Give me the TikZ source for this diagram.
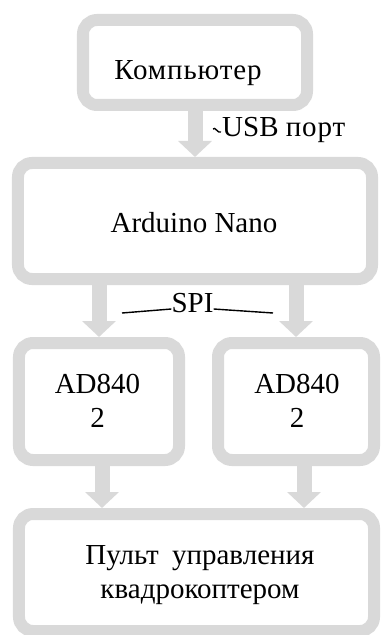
\documentclass[tikz,border=0pt]{standalone}
\usepackage{fontspec}
\setmainfont{Liberation Serif}
\newfontfamily\widecyr[LetterSpace=3]{Liberation Serif}
\usetikzlibrary{arrows.meta, positioning}
\definecolor{boxgray}{HTML}{D9D9D9}

\begin{document}
\begin{tikzpicture}[
    x=1bp, y=-1bp,
    block/.style={draw=boxgray, line width=12bp, rounded corners=14bp}, % grey frames
    txt/.style={font=\fontsize{29bp}{34bp}\selectfont, anchor=base, inner sep=0pt, align=center},
    flow/.style={boxgray, line width=15bp, -{Triangle[width=33bp, length=16bp]}}, % block arrows
    leader/.style={line width=1.4bp}
]
    \useasboundingbox (0,0) rectangle (381,635);

    % Frames
    \node (comp) [block, minimum width=224bp, minimum height=85bp]  at (195,62.5)  {};
    \node (ard)  [block, minimum width=354bp, minimum height=116bp] at (195,221)   {};
    \node (adL)  [block, minimum width=160bp, minimum height=117bp] at (99,401.5)  {};
    \node (adR)  [block, minimum width=156bp, minimum height=117bp] at (296,401.5) {};
    \node (pult) [block, minimum width=355bp, minimum height=117bp] at (196.5,572.5) {};

    % Texts in frames
    \node (compT) [txt] at (188,80)  {\widecyr Компьютер};
    \node (ardT)  [txt] at (194,232) {Arduino Nano};
    \node (adLT)  [txt, anchor=center] at (97.5,400.7) {AD840\\2};
    \node (adRT)  [txt, anchor=center] at (297,400.7)  {AD840\\2};
    \node (pultT) [txt, anchor=center] at (200,575)    {Пульт\hspace{6bp} управления\\квадрокоптером};

    % Arrows
    \draw[flow] (comp.south) -- (ard.north);
    \draw[flow] (ard.south -| adL.north) -- (adL.north);
    \draw[flow] (ard.south -| adR.north) -- (adR.north);
    \draw[flow] ([xshift=3bp]adL.south) -- ([xshift=3bp]adL.south |- pult.north);
    \draw[flow] ([xshift=8bp]adR.south) -- ([xshift=8bp]adR.south |- pult.north);

    % Callouts
    \node (usb) [txt, anchor=base west] at (222,137) {USB {\widecyr порт}};
    \coordinate (usbA) at (213,129);
    \draw[leader] (usbA) .. controls (215,126) and (218,134) .. ([xshift=-1bp, yshift=5bp]usb.base west);

    \node (spi) [txt] at (192.5,312) {SPI};
    \coordinate (spiL) at (122,313);
    \coordinate (spiR) at (273,313);
    \draw[leader] (spiL) -- ([yshift=3bp]spi.base west);
    \draw[leader] ([yshift=3bp]spi.base east) -- (spiR);

\end{tikzpicture}
\end{document}
